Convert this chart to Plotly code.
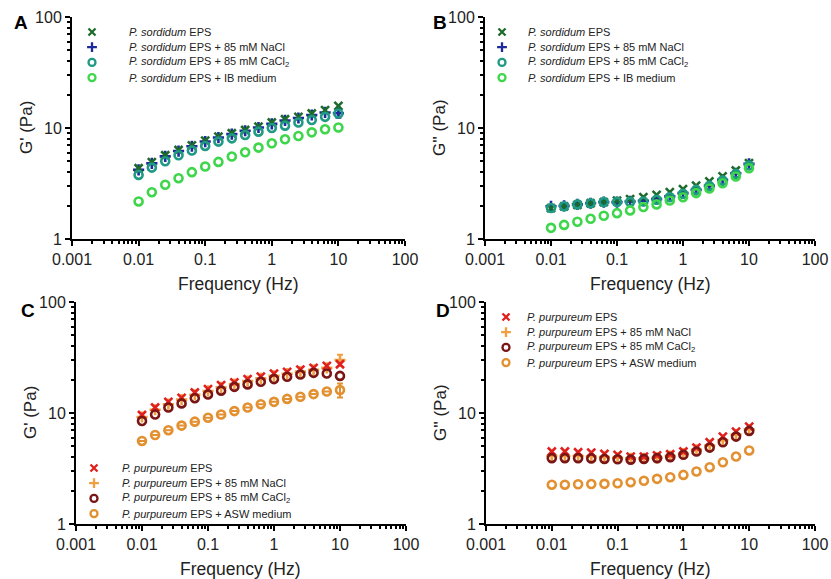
import plotly.graph_objects as go

W, H = 831, 579

freq = [0.01, 0.0158, 0.0251, 0.0398, 0.0631, 0.1, 0.158, 0.251, 0.398, 0.631,
        1, 1.58, 2.51, 3.98, 6.31, 10]

# Panel A: G' (P. sordidum)
a_eps = [4.34, 4.92, 5.68, 6.34, 6.98, 7.7, 8.36, 8.96, 9.6, 10.3, 11.2, 12.0, 12.6, 13.5, 14.5, 15.8]
a_nacl = [4.2, 4.8, 5.55, 6.2, 6.85, 7.55, 8.2, 8.8, 9.45, 10.1, 10.9, 11.7, 12.3, 13.1, 13.8, 13.6]
a_nacl_err = [0, 0, 0, 0, 0, 0, 0, 0, 0, 0, 0, 0, 0, 0, 0, 1.2]
a_cacl2 = [3.78, 4.4, 5.02, 5.68, 6.27, 6.89, 7.54, 8.07, 8.65, 9.27, 10.0, 10.5, 11.2, 11.8, 12.6, 13.5]
a_ib = [2.18, 2.64, 3.08, 3.53, 4.0, 4.5, 4.95, 5.53, 6.04, 6.66, 7.28, 7.91, 8.47, 9.14, 9.73, 10.1]

# Panel B: G'' (P. sordidum)
b_eps = [1.90, 1.97, 2.03, 2.10, 2.15, 2.22, 2.29, 2.38, 2.50, 2.64, 2.81, 3.03, 3.30, 3.66, 4.14, 4.82]
b_nacl = [1.97, 1.99, 2.05, 2.10, 2.15, 2.15, 2.18, 2.21, 2.29, 2.42, 2.59, 2.77, 3.01, 3.41, 3.91, 4.75]
b_cacl2 = [1.90, 1.97, 2.05, 2.10, 2.15, 2.16, 2.16, 2.18, 2.26, 2.38, 2.55, 2.77, 3.01, 3.36, 3.86, 4.59]
b_ib = [1.26, 1.34, 1.43, 1.52, 1.62, 1.71, 1.81, 1.94, 2.05, 2.22, 2.38, 2.59, 2.85, 3.18, 3.66, 4.34]

# Panel C: G' (P. purpureum)
c_eps = [9.6, 11.2, 12.6, 13.7, 15.3, 16.4, 17.8, 18.9, 20.2, 21.3, 22.6, 23.5, 24.6, 25.5, 26.6, 27.5]
c_nacl = [9.2, 10.7, 12.0, 13.2, 14.6, 15.8, 17.0, 18.2, 19.4, 20.5, 21.6, 22.6, 23.6, 24.5, 25.5, 30.0]
c_nacl_err = [0, 0, 0, 0, 0, 0, 0, 0, 0, 0, 0, 0, 0, 0, 0, 3.5]
c_cacl2 = [8.47, 9.7, 11.2, 12.2, 13.6, 14.7, 15.9, 17.2, 18.1, 19.1, 20.2, 21.2, 22.2, 23.0, 22.7, 21.6]
c_asw = [5.6, 6.34, 7.0, 7.7, 8.36, 9.07, 9.7, 10.4, 11.2, 12.0, 12.6, 13.4, 14.0, 14.8, 15.6, 16.1]
c_asw_err = [0, 0, 0, 0, 0, 0, 0, 0, 0, 0, 0, 0, 0, 0, 0, 2.3]

# Panel D: G'' (P. purpureum)
d_eps = [4.5, 4.5, 4.43, 4.4, 4.29, 4.2, 4.05, 4.05, 4.15, 4.25, 4.5, 4.88, 5.45, 6.13, 6.8, 7.55]
d_nacl = [4.1, 4.1, 4.1, 4.05, 4.0, 3.95, 3.9, 3.9, 3.95, 4.1, 4.3, 4.65, 5.1, 5.7, 6.4, 7.1]
d_cacl2 = [3.92, 3.92, 3.92, 3.9, 3.86, 3.83, 3.8, 3.86, 3.92, 4.0, 4.2, 4.5, 4.88, 5.45, 6.13, 6.9]
d_asw = [2.26, 2.26, 2.28, 2.29, 2.3, 2.33, 2.38, 2.45, 2.55, 2.64, 2.77, 2.97, 3.25, 3.6, 4.05, 4.6]

x_tickvals = [0.001, 0.01, 0.1, 1, 10, 100]
x_ticktext = ["0.001", "0.01", "0.1", "1", "10", "100"]
y_tickvals = [1, 10, 100]
y_ticktext = ["1", "10", "100"]

names_s = ["<i>P. sordidum</i> EPS", "<i>P. sordidum</i> EPS + 85 mM NaCl",
           "<i>P. sordidum</i> EPS + 85 mM CaCl<sub>2</sub>", "<i>P. sordidum</i> EPS + IB medium"]
names_p = ["<i>P. purpureum</i> EPS", "<i>P. purpureum</i> EPS + 85 mM NaCl",
           "<i>P. purpureum</i> EPS + 85 mM CaCl<sub>2</sub>", "<i>P. purpureum</i> EPS + ASW medium"]

col_s = ["#1d6b2a", "#1c2a9c", "#1f9a84", "#3ed64a"]
col_p = ["#e0201e", "#f0a040", "#7a1515", "#e39030"]
symbols = ["x-thin-open", "cross-thin-open", "circle-open", "circle-open"]

FONT = "Liberation Sans, Arial, sans-serif"
TXT = "#222"

def px(x):
    return x / W

def py(y):
    return 1 - y / H

# panel boxes in pixels: (left, right, top, bottom)
boxes = {
    "A": (72, 405, 17, 239),
    "B": (485, 815, 17, 239),
    "C": (76, 406, 302, 524),
    "D": (486, 815, 302, 524),
}
# legend layout in pixels: (marker x, text x, first row y, row step)
legpos = {
    "A": (92, 127, 32, 15.2),
    "B": (502, 526, 32, 15.2),
    "C": (94, 120, 468, 15.2),
    "D": (506, 525, 317, 15.2),
}

fig = go.Figure()

panels = [
    ("A", "x", "y", [a_eps, a_nacl, a_cacl2, a_ib], [None, a_nacl_err, None, None], names_s, col_s),
    ("B", "x2", "y2", [b_eps, b_nacl, b_cacl2, b_ib], [None, None, None, None], names_s, col_s),
    ("C", "x3", "y3", [c_eps, c_nacl, c_cacl2, c_asw], [None, c_nacl_err, None, c_asw_err], names_p, col_p),
    ("D", "x4", "y4", [d_eps, d_nacl, d_cacl2, d_asw], [None, None, None, None], names_p, col_p),
]

draw_order = [1, 0, 2, 3]
for key, xa, ya, series, errs, names, cols in panels:
    for i in draw_order:
        kw = {}
        if errs[i] is not None:
            kw["error_y"] = dict(type="data", array=errs[i], visible=True,
                                 color=cols[i], thickness=2, width=3)
        fig.add_trace(go.Scatter(
            x=freq, y=series[i], mode="markers", name=names[i],
            xaxis=xa, yaxis=ya, showlegend=False,
            marker=dict(symbol=symbols[i], size=8, color=cols[i],
                        line=dict(color=cols[i], width=2.6)),
            **kw))

# manual legends drawn on a full-page overlay axis in pixel units
anns = []
for key, xa, ya, series, errs, names, cols in panels:
    mx, tx, y0, step = legpos[key]
    for i in range(4):
        yy = y0 + i * step
        fig.add_trace(go.Scatter(
            x=[mx], y=[yy], mode="markers", xaxis="x5", yaxis="y5", showlegend=False,
            hoverinfo="skip",
            marker=dict(symbol=symbols[i], size=7, color=cols[i],
                        line=dict(color=cols[i], width=2.3))))
        anns.append(dict(text=names[i], x=px(tx), y=py(yy), xref="paper", yref="paper",
                         showarrow=False, xanchor="left", yanchor="middle",
                         font=dict(family=FONT, size=11, color=TXT)))

minor_x = [m * 10 ** e for e in range(-3, 2) for m in range(2, 10)]
minor_y = [m * 10 ** e for e in range(0, 2) for m in range(2, 10)]

axis_common = dict(type="log", showgrid=False, zeroline=False, showline=True,
                   linecolor="black", linewidth=2, ticks="outside", ticklen=5,
                   tickwidth=2, tickcolor="black", automargin=False,
                   ticklabeloverflow="allow",
                   tickfont=dict(family=FONT, size=16, color=TXT))

layout = dict(width=W, height=H, margin=dict(l=0, r=0, t=0, b=0),
              paper_bgcolor="white", plot_bgcolor="rgba(0,0,0,0)", showlegend=False)

ax_ids = {"A": ("xaxis", "yaxis"), "B": ("xaxis2", "yaxis2"),
          "C": ("xaxis3", "yaxis3"), "D": ("xaxis4", "yaxis4")}
anchors = {"A": ("y", "x"), "B": ("y2", "x2"), "C": ("y3", "x3"), "D": ("y4", "x4")}
ytitles = {"A": "G' (Pa)", "B": "G'' (Pa)", "C": "G' (Pa)", "D": "G'' (Pa)"}

for key, (l, r, t, b) in boxes.items():
    xk, yk = ax_ids[key]
    layout[xk] = dict(axis_common, domain=[px(l), px(r)], anchor=anchors[key][0],
                      range=[-3, 2], tickvals=x_tickvals, ticktext=x_ticktext,
                      minor=dict(tickvals=minor_x, ticks="outside", ticklen=3,
                                 tickwidth=1.5, tickcolor="black"))
    layout[yk] = dict(axis_common, domain=[py(b), py(t)], anchor=anchors[key][1],
                      range=[0, 2], tickvals=y_tickvals, ticktext=y_ticktext,
                      minor=dict(tickvals=minor_y, ticks="outside", ticklen=3,
                                 tickwidth=1.5, tickcolor="black"))
    anns.append(dict(text="Frequency (Hz)", x=px((l + r) / 2), y=py(b + 45),
                     xref="paper", yref="paper", showarrow=False,
                     xanchor="center", yanchor="middle",
                     font=dict(family=FONT, size=17.5, color=TXT)))
    anns.append(dict(text=ytitles[key], x=px(l - 46), y=py((t + b) / 2),
                     xref="paper", yref="paper", showarrow=False, textangle=-90,
                     xanchor="center", yanchor="middle",
                     font=dict(family=FONT, size=17, color=TXT)))

layout["xaxis5"] = dict(domain=[0, 1], range=[0, W], visible=False, fixedrange=True,
                        anchor="y5")
layout["yaxis5"] = dict(domain=[0, 1], range=[H, 0], visible=False, fixedrange=True,
                        anchor="x5")

letters = {"A": (21, 23), "B": (440, 23), "C": (28, 310), "D": (443, 310)}
for k, (x, y) in letters.items():
    anns.append(dict(text="<b>%s</b>" % k, x=px(x), y=py(y), xref="paper", yref="paper",
                     showarrow=False, xanchor="center", yanchor="middle",
                     font=dict(family=FONT, size=19, color="black")))

layout["annotations"] = anns
fig.update_layout(**layout)
fig.write_html("out.html", config={"displayModeBar": False},
               post_script="document.body.style.margin='0';document.body.style.padding='0';")
